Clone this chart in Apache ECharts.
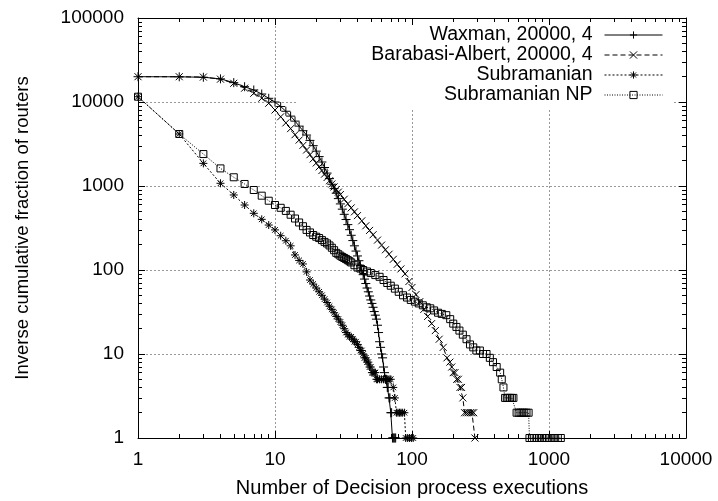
<!DOCTYPE html>
<html><head><meta charset="utf-8">
<script src="https://cdn.jsdelivr.net/npm/echarts@6/dist/echarts.min.js"></script>
<style>html,body{margin:0;padding:0;background:#fff}#c{width:718px;height:501px}</style>
</head><body><div id="c"></div>
<script>
// ---- data ----
const seriesNames = ['Waxman, 20000, 4', 'Barabasi-Albert, 20000, 4', 'Subramanian', 'Subramanian NP'];

const waxman = [[1,20000],[2,19950],[3,19700],[4,18850],[5,17000],[6,15200],[7,13900],[8,12450],[9,11070],[10,10000],
[11,8830],[12,7760],[13,6790],[14,5920],[15,5160],[16,4550],[17,4040],[18,3490],[19,3020],[20,2600],
[21,2240],[22,1930],[23,1660],[24,1425],[25,1225],[26,1050],[27,930],[28,820],[29,708],[30,612],
[31,530],[32,460],[33,399],[34,347],[35,302],[36,259],[37,224],[38,194],[39,168],[40,147],
[41,129],[42,113],[43,99],[44,88],[45,78],[46,69],[47,61],[48,55],[49,49],[50,44],
[51,40],[52,36],[53,32],[54,29],[55,26],[56,22],[57,18],[58,14],[59,12],[60,10],
[61,9],[62,7],[63,6],[64,5],[65,5],[66,4],[67,4],[68,3],[69,3],[70,2],[71,2],[72,1],[73,1],[74,1],[75,1],[76,1]];

const barabasi = [[1,20000],[2,20000],[3,19800],[4,18700],[5,16700],[6,14600],[7,12700],[8,11100],[9,9660],[10,8030],
[11,6670],[12,5640],[13,4820],[14,4080],[15,3520],[16,3050],[17,2680],[18,2360],[19,2100],[20,1880],
[21,1690],[22,1527],[23,1385],[24,1263],[25,1155],[26,1057],[27,975],[28,907],[29,846],[30,791],
[32,695],[34,615],[36,549],[38,492],[40,444],[43,385],[46,336],[49,296],[52,263],[56,227],
[60,198],[64,174],[68,154],[73,134],[78,117],[83,103],[89,90],[95,73],[100,62],[107,51],
[114,42],[122,34],[130,28],[139,23],[148,19],[158,15],[169,12],[180,9],[189,8],[195,7],
[200,6],[206,6],[212,5],[218,5],[224,4],[230,4],[235,3],[242,2],[250,2],[258,2],[266,2],[274,2],[282,2],[288,1]];

const subramanian = [[1,11560],[2,4160],[3,1860],[4,1077],[5,782],[6,594],[7,473],[8,401],[9,343],[10,300],
[11,256],[12,223],[13,194],[14,151],[15,130],[16,118],[17,95],[18,76],[19,68],[20,61],
[21,55],[22,50],[23,45],[24,41],[25,37],[26,34],[27,31],[28,28],[29,26],[30,24],
[31,22],[32,20],[33,18],[34,17],[35,16],[36,16],[37,15],[38,14],[39,14],[40,13],
[41,12],[42,11],[43,11],[44,10],[45,9],[46,9],[47,8],[48,8],[49,7],[50,7],
[51,6],[52,6],[53,6],[54,6],[55,5],[56,5],[58,5],[60,5],[62,5],[64,5],[66,5],[68,5],[70,5],
[73,4],[75,3],[77,2],[79,2],[81,2],[83,2],[85,2],[88,2],[90,1],[93,1],[96,1],[99,1],[102,1]];

const subramanianNP = [[1,11560],[2,4160],[3,2400],[4,1620],[5,1270],[6,1057],[7,896],[8,767],[9,668],[10,594],
[11,550],[12,505],[13,455],[14,410],[15,368],[16,332],[17,300],[18,280],[19,261],[20,249],
[21,240],[22,227],[23,216],[24,207],[25,196],[26,184],[27,172],[28,160],[29,154],[30,148],
[31,143],[32,139],[33,135],[34,131],[35,127],[36,123],[38,114],[40,107],[42,104],[44,100],
[47,96],[50,92],[54,87],[58,83],[62,76],[66,70],[70,65],[75,60],[80,55],[86,50],
[92,47],[98,44],[105,42],[112,40],[120,38],[128,36],[136,35],[145,33],[155,31],[165,30],
[178,29],[190,26],[200,23],[211,21],[222,19],[235,17],[250,15],[265,13],[280,12],[295,11],
[313,11],[330,10],[350,10],[370,9],[390,8],[415,7],[440,6],[452,5],[465,4],
[478,3],[492,3],[506,3],[520,3],[535,3],[550,3],
[580,2],[600,2],[620,2],[640,2],[660,2],[685,2],[710,2],
[720,1],[750,1],[780,1],[815,1],[850,1],[890,1],[930,1],[970,1],[1010,1],[1060,1],[1110,1],[1160,1],[1220,1]];

const xTickLabels = ['1','10','100','1000','10000'];
const yTickLabels = ['1','10','100','1000','10000','100000'];
const xMinorTicks = [2,3,4,5,6,7,8,9,20,30,40,50,60,70,80,90,200,300,400,500,600,700,800,900,2000,3000,4000,5000,6000,7000,8000,9000];
const yMinorTicks = [2,3,4,5,6,7,8,9,20,30,40,50,60,70,80,90,200,300,400,500,600,700,800,900,2000,3000,4000,5000,6000,7000,8000,9000,20000,30000,40000,50000,60000,70000,80000,90000];

// ---- styling ----
const FONT = '"Liberation Sans", Arial, Helvetica, sans-serif';
const SYM_PLUS = 'path://M0,5L10,5M5,0L5,10';
const SYM_CROSS = 'path://M0,0L10,10M10,0L0,10';
const SYM_STAR = 'path://M0,5L10,5M5,0L5,10M1.5,1.5L8.5,8.5M8.5,1.5L1.5,8.5';
const SYM_BOX = 'path://M0,0L10,0L10,10L0,10Z';

function fmt(v) { return String(Math.round(v)); }

function majorAxis(kind, position, max, withLabels, z) {
  return {
    type: 'log', logBase: 10, min: 1, max: max, position: position, z: z,
    axisLine: { show: true, onZero: false, lineStyle: { color: '#000', width: 1 } },
    axisTick: { show: true, inside: true, length: 7, lineStyle: { color: '#000', width: 1 } },
    axisLabel: { show: withLabels, fontSize: 19, color: '#000', fontFamily: FONT, formatter: fmt,
                 margin: kind === 'x' ? 12 : 14 },
    splitLine: { show: withLabels, showMinLine: false, showMaxLine: false,
                 lineStyle: { color: '#999', type: [2, 2], width: 1 } },
    minorTick: { show: false }
  };
}
function minorAxis(position, max, ticks, z) {
  return {
    type: 'log', logBase: 10, min: 1, max: max, position: position, z: z,
    axisLine: { show: false },
    axisTick: { show: true, inside: true, length: 4, customValues: ticks, lineStyle: { color: '#000', width: 1 } },
    axisLabel: { show: false },
    splitLine: { show: false },
    minorTick: { show: false }
  };
}

const xMain = majorAxis('x', 'bottom', 10000, true, 1);
xMain.name = 'Number of Decision process executions';
xMain.nameLocation = 'middle';
xMain.nameGap = 40;
xMain.nameTextStyle = { fontSize: 20, color: '#000', fontFamily: FONT };
const yMain = majorAxis('y', 'left', 100000, true, 1);
yMain.name = 'Inverse cumulative fraction of routers';
yMain.nameLocation = 'middle';
yMain.nameGap = 106;
yMain.nameRotate = 90;
yMain.nameTextStyle = { fontSize: 18.5, color: '#000', fontFamily: FONT };

function mkSeries(name, data, symbol, size, dash) {
  return {
    name: name, type: 'line', data: data, xAxisIndex: 0, yAxisIndex: 0,
    symbol: symbol, symbolSize: size, showSymbol: true, showAllSymbol: true, clip: false,
    lineStyle: { color: '#000', width: 1, type: dash },
    itemStyle: { color: 'rgba(0,0,0,0)', borderColor: '#000', borderWidth: 1 },
    emphasis: { disabled: true }, z: 2
  };
}

const chart = echarts.init(document.getElementById('c'), null, { renderer: 'canvas' });
chart.setOption({
  animation: false,
  backgroundColor: '#fff',
  textStyle: { fontFamily: FONT },
  grid: { left: 138, right: 32, top: 18, bottom: 63, containLabel: false, outerBoundsMode: 'none' },
  xAxis: [xMain, minorAxis('bottom', 10000, xMinorTicks, 1),
          majorAxis('x', 'top', 10000, false, 10), minorAxis('top', 10000, xMinorTicks, 10)],
  yAxis: [yMain, minorAxis('left', 100000, yMinorTicks, 1),
          majorAxis('y', 'right', 100000, false, 10), minorAxis('right', 100000, yMinorTicks, 10)],
  legend: {
    show: true, orient: 'vertical', right: 45, top: 18, align: 'right',
    itemWidth: 58, itemHeight: 9, itemGap: 0, padding: [7, 10, 3, 74],
    backgroundColor: '#fff', selectedMode: false, z: 5,
    lineStyle: { width: 1 },
    itemStyle: { borderWidth: 1 },
    textStyle: { fontSize: 19.5, color: '#000', fontFamily: FONT, lineHeight: 20, padding: [0, 7, 0, 0] },
    data: seriesNames
  },
  series: [
    mkSeries(seriesNames[0], waxman, SYM_PLUS, 9, 'solid'),
    mkSeries(seriesNames[1], barabasi, SYM_CROSS, 7, [5, 3]),
    mkSeries(seriesNames[2], subramanian, SYM_STAR, 8, [2, 2]),
    mkSeries(seriesNames[3], subramanianNP, SYM_BOX, 7, [1, 1.5])
  ]
});
</script>
</body></html>
